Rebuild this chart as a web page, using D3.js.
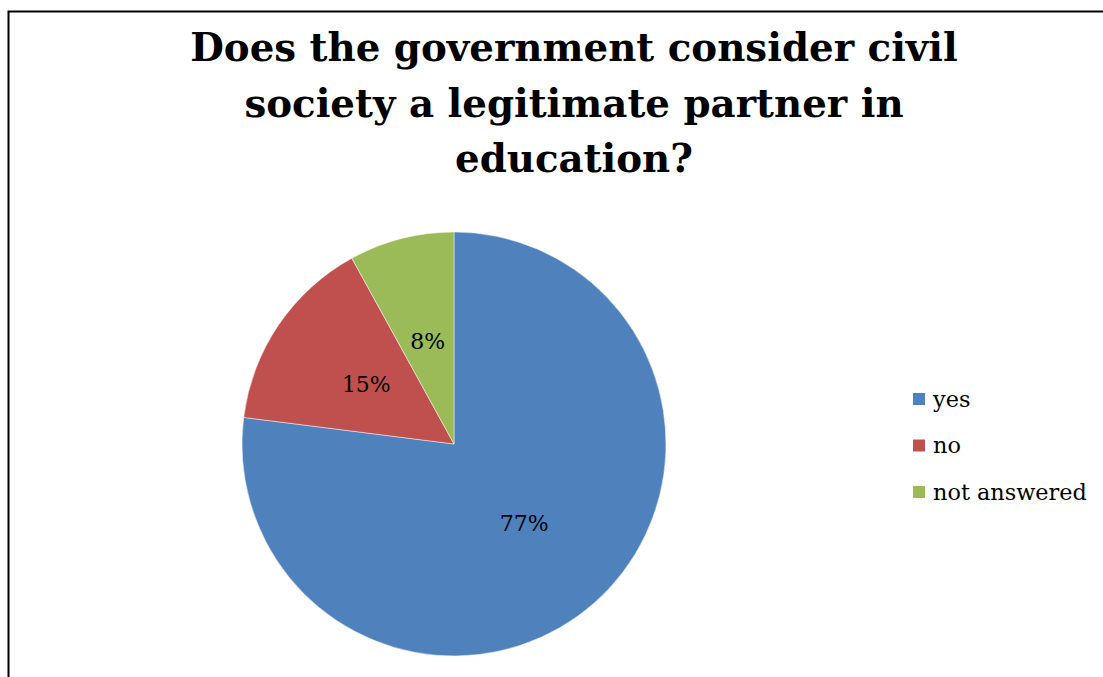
<!DOCTYPE html>
<html>
<head>
<meta charset="utf-8">
<script src="https://cdn.jsdelivr.net/npm/d3@7"></script>
<style>
  body { margin: 0; background: #fff; }
  svg { display: block; }
</style>
</head>
<body>
<div id="chart"></div>
<script>
const categories = ["yes", "no", "not answered"];
const values = [77, 15, 8];
const colors = ["#4F81BD", "#C0504D", "#9BBB59"];
const titleLines = ["Does the government consider civil", "society a legitimate partner in", "education?"];

const width = 1103, height = 677;
const radius = 212;
const cx = 454, cy = 444;
const font = "'DejaVu Serif', serif";

const svg = d3.select("#chart")
  .append("svg")
  .attr("width", width)
  .attr("height", height);

// frame (only left and top edges show in the crop)
svg.append("rect")
  .attr("x", 8.5).attr("y", 11.5)
  .attr("width", 1200).attr("height", 800)
  .attr("fill", "none")
  .attr("stroke", "#000")
  .attr("stroke-width", 2);

// title
const title = svg.append("text")
  .attr("text-anchor", "middle")
  .attr("font-family", font)
  .attr("font-weight", "bold")
  .attr("font-size", 44)
  .attr("fill", "#000");

title.selectAll("tspan")
  .data(titleLines)
  .enter()
  .append("tspan")
  .attr("x", 574)
  .attr("y", (d, i) => 61 + i * 55.5)
  .text(d => d);

// fit line 1 to the width it has in the picture
const w0 = title.select("tspan").node().getComputedTextLength();
title.attr("font-size", 44 * 768 / w0);

// pie
const pie = d3.pie().sort(null).value(d => d.value);
const arc = d3.arc().outerRadius(radius).innerRadius(0);
const labelArc = d3.arc().outerRadius(radius * 0.5).innerRadius(radius * 0.5);

const data = categories.map((c, i) => ({ name: c, value: values[i], color: colors[i] }));
const total = d3.sum(values);

const g = svg.append("g").attr("transform", `translate(${cx},${cy})`);

const slices = g.selectAll(".arc")
  .data(pie(data))
  .enter()
  .append("g")
  .attr("class", "arc");

slices.append("path")
  .attr("d", arc)
  .attr("fill", d => d.data.color)
  .attr("stroke", "#fff")
  .attr("stroke-opacity", 0.6)
  .attr("stroke-width", 0.8);

slices.append("text")
  .attr("transform", d => `translate(${labelArc.centroid(d)})`)
  .attr("dy", "0.35em")
  .attr("text-anchor", "middle")
  .attr("font-family", font)
  .attr("font-size", 22)
  .attr("fill", "#000")
  .text(d => Math.round(d.data.value / total * 100) + "%");

// legend
const legend = svg.append("g").attr("transform", "translate(913,399)");
const item = legend.selectAll(".item")
  .data(data)
  .enter()
  .append("g")
  .attr("class", "item")
  .attr("transform", (d, i) => `translate(0,${i * 46.5})`);

item.append("rect")
  .attr("x", 0).attr("y", -6)
  .attr("width", 12).attr("height", 12)
  .attr("fill", d => d.color);

const ltext = item.append("text")
  .attr("x", 20)
  .attr("dy", "0.35em")
  .attr("font-family", font)
  .attr("font-size", 21)
  .attr("fill", "#000")
  .text(d => d.name);

// widest legend entry spans about 154px in the picture
const lw = ltext.nodes()[2].getComputedTextLength();
ltext.attr("font-size", 21 * 154 / lw);
</script>
</body>
</html>
